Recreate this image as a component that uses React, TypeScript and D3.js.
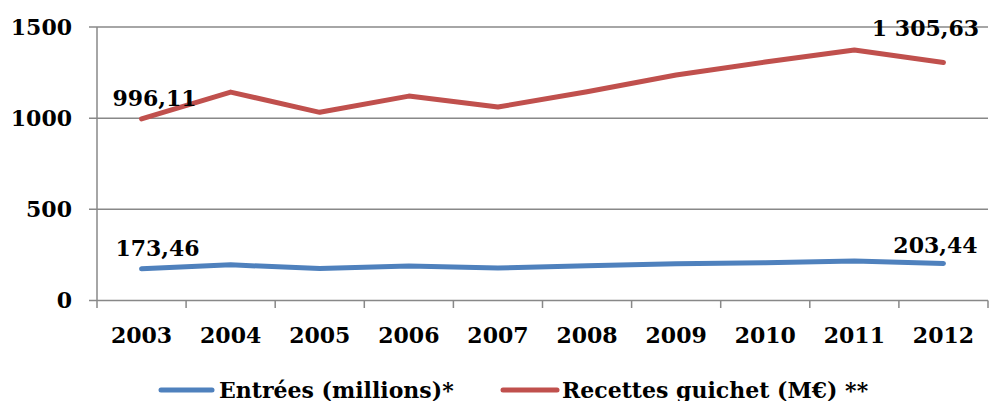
import React from "react";
import * as d3 from "d3";

const years = ["2003", "2004", "2005", "2006", "2007", "2008", "2009", "2010", "2011", "2012"];
const entrees = [173.46, 195.4, 175.5, 188.8, 178.5, 190.3, 201.6, 207.1, 217.2, 203.44];
const recettes = [996.11, 1143, 1032, 1121, 1061, 1145, 1237, 1308, 1374, 1305.63];
const yTicks = [0, 500, 1000, 1500];
const seriesNames = ["Entrées (millions)*", "Recettes guichet (M€) **"];
const seriesColors = ["#4F81BD", "#C0504D"];
const endLabels = [
  ["173,46", "203,44"],
  ["996,11", "1 305,63"],
];

const W = 989;
const H = 401;
const FONT = "'DejaVu Serif', serif";

export default function App() {
  const left = 97;
  const right = 988;
  const top = 27;
  const bottom = 300.5;
  const x = d3.scaleBand<string>().domain(years).range([left, right]);
  const y = d3.scaleLinear().domain([0, 1500]).range([bottom, top]);
  const cx = (d: string) => (x(d) as number) + x.bandwidth() / 2;
  const line = d3
    .line<number>()
    .x((_, i) => cx(years[i]))
    .y((v) => y(v));
  const series = [entrees, recettes];
  // label placement offsets (first, last) per series
  const labelOffsets = [
    [{ dx: 16, dy: -13 }, { dx: -8, dy: -10 }],
    [{ dx: 13, dy: -13 }, { dx: -18, dy: -26 }],
  ];
  const tickXs = [...years.map((d) => x(d) as number), right];

  return (
    <svg
      width={W}
      height={H}
      style={{ position: "absolute", left: 0, top: 0, background: "#fff" }}
      fontFamily={FONT}
      fontWeight="bold"
    >
      {yTicks.map((t) => (
        <g key={t}>
          <line x1={89} x2={right} y1={y(t)} y2={y(t)} stroke="#888" strokeWidth={1.5} />
          <text x={72} y={y(t)} dy="0.36em" textAnchor="end" fontSize={22} fill="#000">
            {t}
          </text>
        </g>
      ))}
      <line x1={left} x2={left} y1={top} y2={bottom} stroke="#888" strokeWidth={1.5} />
      {tickXs.map((tx, i) => (
        <line key={i} x1={tx} x2={tx} y1={bottom} y2={308} stroke="#888" strokeWidth={1.5} />
      ))}
      {years.map((d) => (
        <text key={d} x={cx(d)} y={343} textAnchor="middle" fontSize={22} fill="#000">
          {d}
        </text>
      ))}
      {series.map((s, si) => (
        <path
          key={si}
          d={line(s) as string}
          fill="none"
          stroke={seriesColors[si]}
          strokeWidth={5}
          strokeLinejoin="round"
          strokeLinecap="round"
        />
      ))}
      {series.map((s, si) =>
        [0, s.length - 1].map((idx, k) => (
          <text
            key={`${si}-${k}`}
            x={cx(years[idx]) + labelOffsets[si][k].dx}
            y={y(s[idx]) + labelOffsets[si][k].dy}
            textAnchor="middle"
            fontSize={22}
            fill="#000"
          >
            {endLabels[si][k]}
          </text>
        ))
      )}
      {/* legend */}
      <line x1={161} x2={212} y1={390} y2={390} stroke={seriesColors[0]} strokeWidth={5} strokeLinecap="round" />
      <text x={219} y={398} fontSize={22} fill="#000">
        {seriesNames[0]}
      </text>
      <line x1={503} x2={557} y1={390} y2={390} stroke={seriesColors[1]} strokeWidth={5} strokeLinecap="round" />
      <text x={562} y={398} fontSize={22} fill="#000">
        {seriesNames[1]}
      </text>
    </svg>
  );
}
